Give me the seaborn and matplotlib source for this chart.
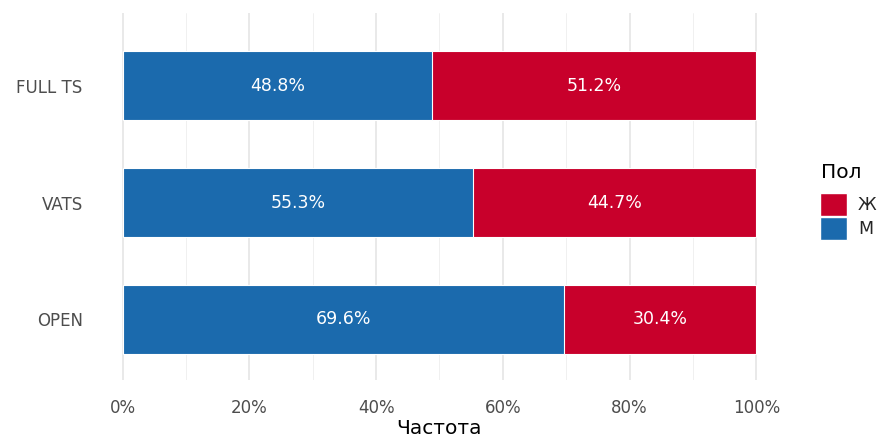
import matplotlib
matplotlib.use("Agg")
import matplotlib.pyplot as plt
import matplotlib.patches as mpatches
from matplotlib.ticker import FuncFormatter, MultipleLocator
import seaborn as sns
import pandas as pd

# Доля мужчин и женщин по типу операции, %
categories = ["FULL TS", "VATS", "OPEN"]
male = [48.8, 55.3, 69.6]
female = [51.2, 44.7, 30.4]
ticks = [0, 20, 40, 60, 80, 100]

color_m = "#1B6AAD"
color_f = "#C8002B"

sns.set_theme(style="whitegrid")
plt.rcParams["font.family"] = ["DejaVu Sans"]

df = pd.DataFrame({"cat": categories, "m": male, "f": female})
df["total"] = df["m"] + df["f"]

fig = plt.figure(figsize=(8.79, 4.41), dpi=100)
ax = fig.add_axes([91 / 879, 61 / 441, (788 - 91) / 879, (428 - 61) / 441])

# stacked bars: full bar in the female colour, male share drawn over it
sns.barplot(data=df, y="cat", x="total", order=categories, color=color_f,
            width=0.59, edgecolor="white", linewidth=0.8, saturation=1, ax=ax)
sns.barplot(data=df, y="cat", x="m", order=categories, color=color_m,
            width=0.59, edgecolor="white", linewidth=0.8, saturation=1, ax=ax)

for i, (m, f) in enumerate(zip(male, female)):
    ax.text(m / 2, i, f"{m:.1f}%", color="white", ha="center", va="center", fontsize=12.5)
    ax.text(m + f / 2, i, f"{f:.1f}%", color="white", ha="center", va="center", fontsize=12.5)

ax.set_xlim(-5, 105)
ax.set_ylim(2.52, -0.624)
ax.set_xticks(ticks)
ax.xaxis.set_minor_locator(MultipleLocator(10))
ax.xaxis.set_major_formatter(FuncFormatter(lambda v, p: f"{v:.0f}%"))
ax.grid(axis="x", which="major", color="#E3E3E3", linewidth=1.1)
ax.grid(axis="x", which="minor", color="#EEEEEE", linewidth=0.6)
ax.grid(axis="y", visible=False)
ax.set_axisbelow(True)
for s in ax.spines.values():
    s.set_visible(False)
ax.tick_params(axis="both", which="both", length=0, labelsize=12, labelcolor="#4D4D4D", pad=6)
ax.tick_params(axis="x", pad=14)
ax.set_ylabel("")
ax.set_xlabel("Частота", fontsize=14.5, color="black", labelpad=1)

# legend: title placed separately, keys below it
fig.text(821 / 879, 1 - 172 / 441, "Пол", fontsize=14.5, color="black", ha="left", va="center")
handles = [mpatches.Patch(facecolor=color_f, edgecolor="white", label="Ж"),
           mpatches.Patch(facecolor=color_m, edgecolor="white", label="М")]
leg = fig.legend(handles=handles, loc="upper left",
                 bbox_to_anchor=(804 / 879, 1 - 177 / 441), frameon=False,
                 fontsize=12.5, handlelength=1.6, handleheight=1.7,
                 handletextpad=0.6, labelspacing=0.05)

fig.savefig("out.png", dpi=100, facecolor="white")
